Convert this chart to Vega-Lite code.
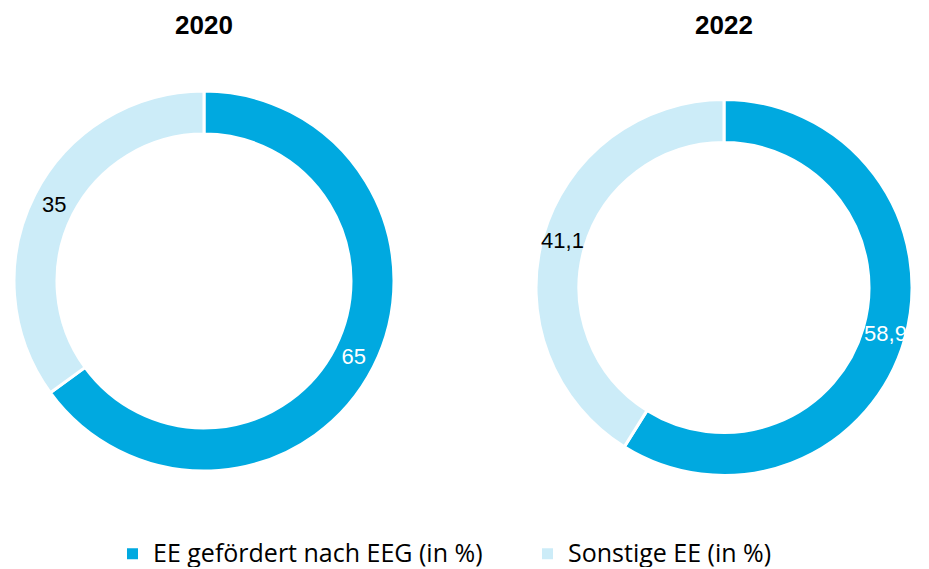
{
  "$schema": "https://vega.github.io/schema/vega-lite/v6.json",
  "padding": {"top": 13, "left": 0, "right": 0, "bottom": 0},
  "background": "white",
  "data": {
    "values": [
      {"year": "2020", "category": "EE gefördert nach EEG (in %)", "value": 65, "label": "65", "order": 1},
      {"year": "2020", "category": "Sonstige EE (in %)", "value": 35, "label": "35", "order": 2},
      {"year": "2022", "category": "EE gefördert nach EEG (in %)", "value": 58.9, "label": "58,9", "order": 1},
      {"year": "2022", "category": "Sonstige EE (in %)", "value": 41.1, "label": "41,1", "order": 2}
    ]
  },
  "spacing": 116,
  "hconcat": [
    {
      "title": "2020",
      "width": 408,
      "height": 442,
      "transform": [{"filter": "datum.year === '2020'"}],
      "encoding": {
        "theta": {"field": "value", "type": "quantitative", "stack": true},
        "order": {"field": "order", "type": "quantitative"}
      },
      "layer": [
        {
          "mark": {"type": "arc", "radius": 190, "radius2": 147, "stroke": "white", "strokeWidth": 3},
          "encoding": {
            "color": {
              "field": "category", "type": "nominal",
              "scale": {"domain": ["EE gefördert nach EEG (in %)", "Sonstige EE (in %)"], "range": ["#00a9e0", "#ccecf8"]},
              "legend": {"title": null}
            }
          }
        },
        {
          "mark": {"type": "text", "radius": 168, "font": "Liberation Sans", "fontSize": 22},
          "encoding": {
            "text": {"field": "label", "type": "nominal"},
            "color": {"condition": {"test": "datum.category === 'Sonstige EE (in %)'", "value": "black"}, "value": "white"}
          }
        }
      ]
    },
    {
      "title": "2022",
      "width": 400,
      "height": 455,
      "transform": [{"filter": "datum.year === '2022'"}],
      "encoding": {
        "theta": {"field": "value", "type": "quantitative", "stack": true},
        "order": {"field": "order", "type": "quantitative"}
      },
      "layer": [
        {
          "mark": {"type": "arc", "radius": 188, "radius2": 145, "stroke": "white", "strokeWidth": 3},
          "encoding": {
            "color": {
              "field": "category", "type": "nominal",
              "scale": {"domain": ["EE gefördert nach EEG (in %)", "Sonstige EE (in %)"], "range": ["#00a9e0", "#ccecf8"]},
              "legend": {"title": null}
            }
          }
        },
        {
          "mark": {"type": "text", "radius": 168, "font": "Liberation Sans", "fontSize": 22},
          "encoding": {
            "text": {"field": "label", "type": "nominal"},
            "color": {"condition": {"test": "datum.category === 'Sonstige EE (in %)'", "value": "black"}, "value": "white"}
          }
        }
      ]
    }
  ],
  "config": {
    "view": {"stroke": null},
    "title": {"font": "Liberation Sans", "fontSize": 26, "fontWeight": "bold", "color": "black", "offset": 21, "anchor": "middle"},
    "legend": {
      "orient": "none",
      "legendX": 120,
      "legendY": 481,
      "direction": "horizontal",
      "symbolType": "square",
      "symbolSize": 121,
      "symbolStrokeWidth": 0,
      "labelFont": "Open Sans",
      "labelFontSize": 25,
      "labelColor": "black",
      "labelLimit": 600,
      "labelOffset": 8,
      "columnPadding": 52,
      "symbolOffset": 0,
      "padding": 0
    }
  }
}
